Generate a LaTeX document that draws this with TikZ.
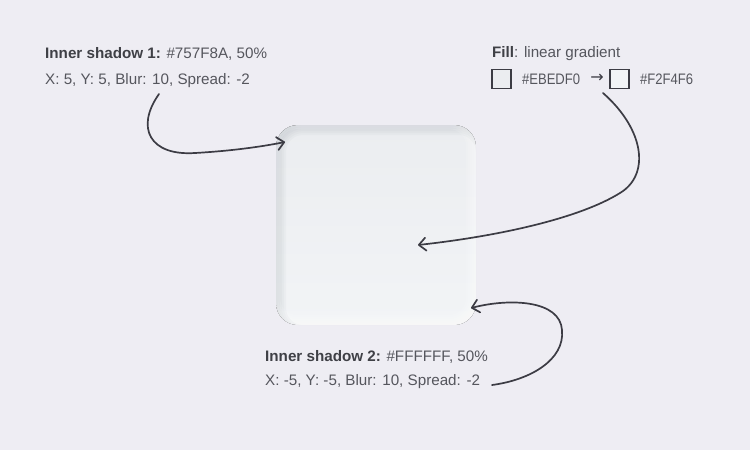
\documentclass[tikz,border=0pt]{standalone}
\usepackage{fontspec}
\setmainfont{Liberation Sans}
\newfontfamily\symbolfont{DejaVu Sans}
\usetikzlibrary{arrows.meta,positioning}
\definecolor{bg}{HTML}{EEEDF3}
\definecolor{ink}{HTML}{3C3C44}
\definecolor{head}{HTML}{3F4046}
\definecolor{txt}{HTML}{55565D}
\definecolor{fillA}{HTML}{EBEDF0}
\definecolor{fillB}{HTML}{F2F4F6}
\definecolor{shadowA}{HTML}{757F8A}
\newcommand{\narrow}[1]{\scalebox{0.86}[1]{#1}}
\begin{document}
\begin{tikzpicture}[x=1pt,y=-1pt]
   \fill[bg] (0,0) rectangle (750,450);
   \useasboundingbox (0,0) rectangle (750,450);
   \tikzstyle{label}=[anchor=west, inner sep=0pt, text=txt, font=\fontsize{15.2}{17}\selectfont]
   \tikzstyle{swatch}=[draw=ink, line width=1.7pt, minimum size=19pt, inner sep=0pt]
   \tikzstyle{link}=[draw=ink, line width=1.7pt, line cap=round, -{Straight Barb[length=7pt,width=13pt,round]}]
   % the pad with its two inner shadows
   \begin{scope}
      \clip[rounded corners=22pt] (276,125) rectangle (476,325);
      \fill[top color=fillA, bottom color=fillB] (276,125) rectangle (476,325);
      \foreach \d in {-3,-1,1,3,5,7} {
         \pgfmathsetmacro\r{max(24-\d,2)}
         \fill[shadowA, opacity=0.045, even odd rule] (250,100) rectangle (500,350)
            [rounded corners=\r pt] (279+\d,128+\d) rectangle (483-\d,332-\d);
         \fill[white, opacity=0.12, even odd rule] (250,100) rectangle (500,350)
            [rounded corners=\r pt] (273+\d,122+\d) rectangle (473-\d,322-\d);
      }
   \end{scope}
   % labels
   \node[label] (shadow1) at (45,54) {\textcolor{head}{\textbf{Inner shadow 1:}} \#757F8A, 50\%};
   \node[label] (shadow1x) at (45,81) {X: 5, Y: 5, Blur: 10, Spread: -2};
   \node[label] (fill) at (492,54) {\textcolor{head}{\textbf{Fill}}: linear gradient};
   \node[swatch, fill=fillA] (boxA) at (501.5,79) {};
   \node[label, right=10pt of boxA] (hexA) {\narrow{\#EBEDF0}};
   \node[text=ink, inner sep=0pt, font=\symbolfont\fontsize{16}{18}\selectfont] (to) at (597,78.5) {→};
   \node[swatch, fill=fillB] (boxB) at (619.5,79) {};
   \node[label, right=10pt of boxB] (hexB) {\narrow{\#F2F4F6}};
   \node[label] (shadow2) at (265,357) {\textcolor{head}{\textbf{Inner shadow 2:}} \#FFFFFF, 50\%};
   \node[label] (shadow2x) at (265,382) {X: -5, Y: -5, Blur: 10, Spread: -2};
   % connectors
   \coordinate (from1) at (159,94);
   \coordinate (to1) at (285,142);
   \coordinate (from2) at (603,93);
   \coordinate (to2) at (418,245);
   \coordinate (from3) at (492,385);
   \coordinate (to3) at (471,308);
   \path[link] (from1) .. controls (135,128) and (150,156) .. (195,153)
      .. controls (230,151) and (260,147) .. (to1);
   \path[link] (from2) .. controls (645,130) and (650,175) .. (620,193)
      .. controls (580,218) and (500,236) .. (to2);
   \path[link] (from3) .. controls (530,380) and (565,360) .. (562,330)
      .. controls (560,300) and (510,298) .. (to3);
\end{tikzpicture}
\end{document}
